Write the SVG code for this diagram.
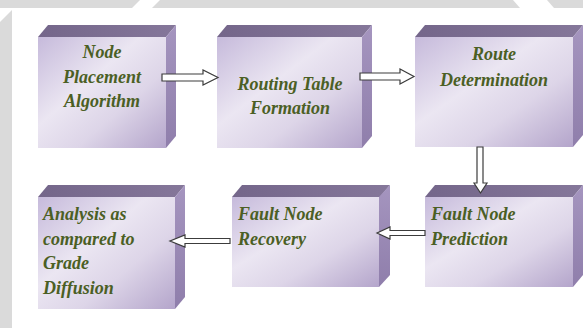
<svg xmlns="http://www.w3.org/2000/svg" width="583" height="328" viewBox="0 0 583 328">
  <defs>
    <linearGradient id="front" x1="0" y1="0" x2="1" y2="1">
      <stop offset="0" stop-color="#c6badb"/>
      <stop offset="0.4" stop-color="#ebe6f2"/>
      <stop offset="0.65" stop-color="#ddd5e8"/>
      <stop offset="1" stop-color="#b4a5cb"/>
    </linearGradient>
    <linearGradient id="top" x1="0" y1="0" x2="1" y2="0">
      <stop offset="0" stop-color="#74668a"/>
      <stop offset="1" stop-color="#85779a"/>
    </linearGradient>
    <linearGradient id="side" x1="0" y1="0" x2="0" y2="1">
      <stop offset="0" stop-color="#a595bf"/>
      <stop offset="1" stop-color="#8f7eab"/>
    </linearGradient>
  </defs>
  <style>
    .front { fill: url(#front); }
    .top { fill: url(#top); }
    .side { fill: url(#side); }
    .label { font-family: "Liberation Serif", "DejaVu Serif", serif; font-style: italic; font-weight: bold; font-size: 18px; fill: #4b5f24; }
    .mid { text-anchor: middle; }
    .arrow { fill: #ffffff; stroke: #3c3c3c; stroke-width: 1.2; stroke-linejoin: miter; }
  </style>

  <!-- page background with grey border bands -->
  <rect x="0" y="0" width="583" height="328" fill="#ffffff"/>
  <g id="backdrop" fill="#dadada">
    <polygon points="0,0 140,0 132,8 0,8"/>
    <polygon points="160,0 513,0 520,8 152,8"/>
    <polygon points="547,0 583,0 583,8 554,8"/>
    <polygon points="0,22 12,10 12,328 0,328"/>
  </g>

  <!-- Node Placement Algorithm -->
  <g id="node-placement">
    <polygon class="top" points="38,37 48,25 176,25 166,37"/>
    <polygon class="side" points="166,37 176,25 176,136 166,148"/>
    <rect class="front" x="38" y="37" width="128" height="111"/>
    <text class="label mid" x="102" y="58">Node</text>
    <text class="label mid" x="102" y="83">Placement</text>
    <text class="label mid" x="102" y="107">Algorithm</text>
  </g>

  <!-- Routing Table Formation -->
  <g id="routing-table">
    <polygon class="top" points="217,37 227,25 372,25 362,37"/>
    <polygon class="side" points="362,37 372,25 372,136 362,148"/>
    <rect class="front" x="217" y="37" width="145" height="111"/>
    <text class="label mid" x="290" y="90">Routing Table</text>
    <text class="label mid" x="290" y="114">Formation</text>
  </g>

  <!-- Route Determination -->
  <g id="route-determination">
    <polygon class="top" points="415,37 425,25 583,25 573,37"/>
    <polygon class="side" points="573,37 583,25 583,135 573,147"/>
    <rect class="front" x="415" y="37" width="158" height="110"/>
    <text class="label mid" x="494" y="60">Route</text>
    <text class="label mid" x="494" y="86">Determination</text>
  </g>

  <!-- Fault Node Prediction -->
  <g id="fault-prediction">
    <polygon class="top" points="425,197 435,185 583,185 573,197"/>
    <polygon class="side" points="573,197 583,185 583,275 573,287"/>
    <rect class="front" x="425" y="197" width="148" height="90"/>
    <text class="label" x="431" y="220">Fault Node</text>
    <text class="label" x="431" y="245">Prediction</text>
  </g>

  <!-- Fault Node Recovery -->
  <g id="fault-recovery">
    <polygon class="top" points="232,197 242,185 390,185 380,197"/>
    <polygon class="side" points="379,197 390,185 390,275 379,287"/>
    <rect class="front" x="232" y="197" width="147" height="90"/>
    <text class="label" x="238" y="220">Fault Node</text>
    <text class="label" x="238" y="245">Recovery</text>
  </g>

  <!-- Analysis as compared to Grade Diffusion -->
  <g id="analysis">
    <polygon class="top" points="38,197 48,185 185,185 175,197"/>
    <polygon class="side" points="175,197 185,185 185,297 175,309"/>
    <rect class="front" x="38" y="197" width="137" height="112"/>
    <text class="label" x="43" y="220">Analysis as</text>
    <text class="label" x="43" y="245">compared to</text>
    <text class="label" x="43" y="269">Grade</text>
    <text class="label" x="43" y="294">Diffusion</text>
  </g>

  <!-- block arrows between steps -->
  <g id="connectors">
    <polygon class="arrow" points="162,74 203,74 203,70 218,77.5 203,85 203,81 162,81"/>
    <polygon class="arrow" points="360,73 400,73 400,69 414,76.5 400,84 400,80 360,80"/>
    <polygon class="arrow" points="477,147 483,147 483,183 487,183 480.5,193 474,183 477,183"/>
    <polygon class="arrow" points="425,230.5 390,230.5 390,227 377,233 390,239 390,235.5 425,235.5"/>
    <polygon class="arrow" points="230,238.5 185,238.5 185,235 170,241 185,247 185,243.5 230,243.5"/>
  </g>
</svg>
